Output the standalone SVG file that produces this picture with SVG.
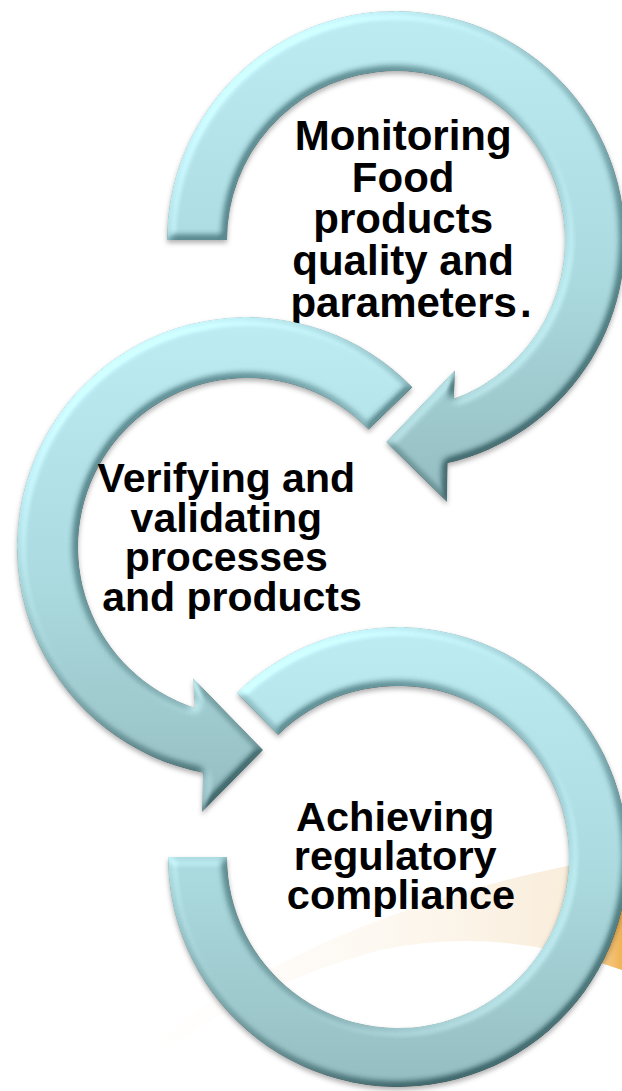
<svg xmlns="http://www.w3.org/2000/svg" width="622" height="1091" viewBox="0 0 622 1091">
  <defs>
    <style>
      .ring { fill: url(#ringFill); filter: url(#bevel); }
      .label { font-family: "Liberation Sans", Arial, sans-serif; font-weight: bold; font-size: 41px; fill: #000; text-anchor: middle; }
    </style>
    <!-- vertical shading of each circular arrow -->
    <linearGradient id="ringFill" x1="0" y1="0" x2="0" y2="1">
      <stop offset="0" stop-color="#BDEDF2"/>
      <stop offset="0.5" stop-color="#ACDCE1"/>
      <stop offset="1" stop-color="#95BDC1"/>
    </linearGradient>
    <!-- faint warm swoosh in the background -->
    <linearGradient id="swoosh" gradientUnits="userSpaceOnUse" x1="150" y1="0" x2="622" y2="0">
      <stop offset="0" stop-color="#FCF3E6" stop-opacity="0"/>
      <stop offset="0.5" stop-color="#FAEFDE" stop-opacity="0.45"/>
      <stop offset="0.88" stop-color="#F8E9D2" stop-opacity="0.8"/>
      <stop offset="0.94" stop-color="#F5D39C" stop-opacity="0.9"/>
      <stop offset="1" stop-color="#F0AE4A" stop-opacity="0.95"/>
    </linearGradient>
    <!-- soft bevel lit from the upper left, plus a drop shadow -->
    <filter id="bevel" x="-10%" y="-10%" width="120%" height="120%" color-interpolation-filters="sRGB">
      <feGaussianBlur in="SourceAlpha" stdDeviation="4" result="blur"/>
      <feDiffuseLighting in="blur" surfaceScale="9" diffuseConstant="1" lighting-color="#ffffff" result="light">
        <feDistantLight azimuth="225" elevation="50"/>
      </feDiffuseLighting>
      <feComposite in="SourceGraphic" in2="light" operator="arithmetic" k1="0" k2="1" k3="0.42" k4="-0.322" result="lit"/>
      <feComposite in="lit" in2="SourceAlpha" operator="in" result="litIn"/>
      <feGaussianBlur in="SourceAlpha" stdDeviation="2.5" result="sblur"/>
      <feOffset in="sblur" dx="0" dy="3" result="soff"/>
      <feFlood flood-color="#000" flood-opacity="0.3"/>
      <feComposite in2="soff" operator="in" result="shadow"/>
      <feMerge>
        <feMergeNode in="shadow"/>
        <feMergeNode in="litIn"/>
      </feMerge>
    </filter>
  </defs>

  <rect width="622" height="1091" fill="#ffffff"/>
  <path d="M150,1042 Q350,900 622,856 L622,970 Q500,925 380,950 Q250,985 150,1062 Z" fill="url(#swoosh)"/>

  <!-- step 1: clockwise arrow, centre (396,240) -->
  <g id="node-monitoring">
    <path class="ring" d="M167,240 A229,229 0 1 1 447.5,463.1 L447,502 L386,442 L455,370 L453.8,398.8 A169,169 0 1 0 227,240 Z"/>
    <text class="label" style="font-size:42px">
      <tspan x="409" y="150">Monitoring</tspan>
      <tspan x="409" y="191.7">Food</tspan>
      <tspan x="409" y="233.4">products</tspan>
      <tspan x="409" y="275.1">quality and</tspan>
      <tspan x="411" y="316.8">parameters<tspan dx="3">.</tspan></tspan>
    </text>
  </g>

  <!-- step 2: counter-clockwise arrow, centre (247,547) -->
  <g id="node-verifying">
    <path class="ring" d="M412.4,387.2 A230,230 0 1 0 203.1,772.8 L202,812 L263,750 L193,678 L194.8,707.7 A169,169 0 1 1 368.6,429.6 Z"/>
    <text class="label">
      <tspan x="232" y="492">Verifying and</tspan>
      <tspan x="232" y="531.5">validating</tspan>
      <tspan x="232" y="571">processes</tspan>
      <tspan x="232" y="610.5">and products</tspan>
    </text>
  </g>

  <!-- step 3: open ring, centre (398,857) -->
  <g id="node-compliance">
    <path class="ring" d="M236.8,692.9 A230,230 0 1 1 168,857 L227,857 A171,171 0 1 0 278.1,735 Z"/>
    <text class="label" style="font-size:41.5px">
      <tspan x="401" y="831">Achieving</tspan>
      <tspan x="401" y="870">regulatory</tspan>
      <tspan x="401" y="909">compliance</tspan>
    </text>
  </g>
</svg>
